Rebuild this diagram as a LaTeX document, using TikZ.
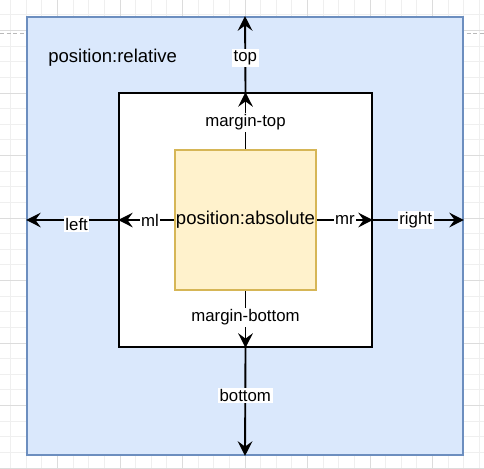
\documentclass[tikz,border=0pt]{standalone}
\usepackage{fontspec}
\setmainfont{Liberation Sans}
\usetikzlibrary{arrows.meta}

\definecolor{relfill}{HTML}{DAE8FC}
\definecolor{relline}{HTML}{6C8EBF}
\definecolor{absfill}{HTML}{FFF2CC}
\definecolor{absline}{HTML}{D6B656}
\definecolor{gridlo}{HTML}{EFEFEF}
\definecolor{gridhi}{HTML}{DCDCDC}

\newcommand{\boxfont}{\fontsize{13.9}{16}\selectfont}
\newcommand{\lblfont}{\fontsize{12.6}{14}\selectfont}

\begin{document}
\begin{tikzpicture}[x=0.75pt, y=-0.75pt,
  box/.style={draw, line width=1.4pt, inner sep=0pt},
  arr/.style={-{Stealth[length=11pt, width=11pt, inset=4pt]}, line width=1.4pt},
  lbl/.style={fill=white, inner sep=1.2pt, font=\lblfont},
  gridminor/.style={gridlo, line width=0.75pt},
  gridmajor/.style={gridhi, line width=0.75pt},
  pagebreak/.style={gray!55, line width=0.75pt, dash pattern=on 3pt off 2pt}]

% Sizes (px)
\newcommand{\relw}{436}
\newcommand{\relh}{438}
\newcommand{\marw}{253}
\newcommand{\marh}{254}
\newcommand{\absw}{141}
\newcommand{\absh}{140}

\useasboundingbox (0,0) rectangle (484,468);

% Background grid
\foreach \i in {0,...,30}
  \draw[gridminor] ({10.625+\i*15.625},0) -- ({10.625+\i*15.625},468);
\foreach \j in {0,...,29}
  \draw[gridminor] (0,{14.875+\j*15.625}) -- (484,{14.875+\j*15.625});
\foreach \i in {0,...,6}
  \draw[gridmajor] ({57.5+\i*62.5},0) -- ({57.5+\i*62.5},468);
\foreach \j in {0,...,7}
  \draw[gridmajor] (0,{30.5+\j*62.5}) -- (484,{30.5+\j*62.5});
% Page break
\draw[pagebreak] (0,33) -- (484,33);

% Outer box
\node[box, draw=relline, fill=relfill,
  minimum width=\relw*0.75pt, minimum height=\relh*0.75pt] (rel) at (245,236) {};
\node[anchor=base west, inner sep=0pt, font=\boxfont] (reltxt) at (48,62) {position:relative};

% Margin box
\node[box, fill=white,
  minimum width=\marw*0.75pt, minimum height=\marh*0.75pt] (mar) at (245.5,220) {};
% Absolute box
\node[box, draw=absline, fill=absfill, font=\boxfont,
  minimum width=\absw*0.75pt, minimum height=\absh*0.75pt] (abs) at (245.5,220) {position:absolute};

% Ends on the outer box
\coordinate (relL) at (rel.west |- abs.west);
\coordinate (relR) at (rel.east |- abs.east);

% Vertical arrows
\draw[arr] (abs.north) -- node[lbl, pos=.47] (mtop) {margin-top} (mar.north);
\draw[arr] (mar.north) -- node[lbl, pos=.45] (top) {top} (rel.north);
\draw[arr] (abs.south) -- node[lbl, pos=.46] (mbot) {margin-bottom} (mar.south);
\draw[arr] (mar.south) -- node[lbl, pos=.44] (bot) {bottom} (rel.south);

% Horizontal arrows
\draw[arr] (abs.west) -- node[lbl, pos=.43] (ml) {ml} (mar.west);
\draw[arr] (mar.west) -- node[lbl, pos=.45, yshift=-3pt] (left) {left} (relL);
\draw[arr] (abs.east) -- node[lbl, pos=.5] (mr) {mr} (mar.east);
\draw[arr] (mar.east) -- node[lbl, pos=.47] (right) {right} (relR);

\end{tikzpicture}
\end{document}
